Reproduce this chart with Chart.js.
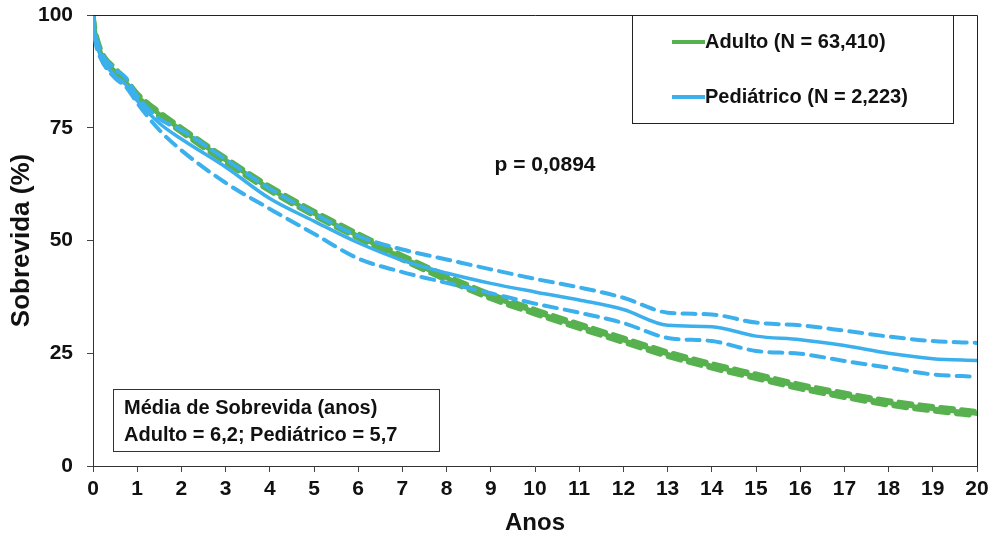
<!DOCTYPE html>
<html>
<head>
<meta charset="utf-8">
<script src="https://cdn.jsdelivr.net/npm/chart.js@4/dist/chart.umd.min.js"></script>
<style>
  html, body { margin: 0; padding: 0; background: #fff; }
  #wrap { width: 992px; height: 535px; position: relative; }
</style>
</head>
<body>
<div id="wrap"><canvas id="chart" width="992" height="535"></canvas></div>
<script>
// anos (eixo x)
const anos = [0, 0.05, 0.2, 0.5, 0.75, 1, 1.5, 2, 3, 4, 5, 6, 7, 8, 9, 10, 11, 12, 13, 14, 15, 16, 17, 18, 19, 20];

// Adulto: estimativa + IC 95%
const adulto    = [100, 96, 91, 87.5, 85, 82, 78, 74.5, 67.8, 61.5, 56, 51, 46.2, 41.7, 37.6, 34.2, 31, 27.9, 24.8, 22.2, 19.9, 17.6, 15.7, 14, 12.7, 11.6];
const adultoSup = [100, 96.6, 91.8, 88.2, 85.7, 82.6, 78.5, 75, 68.3, 62, 56.5, 51.5, 46.7, 42.2, 38.1, 34.7, 31.5, 28.4, 25.3, 22.7, 20.4, 18.1, 16.2, 14.5, 13.2, 12.1];
const adultoInf = [100, 95.4, 90.2, 86.8, 84.3, 81.4, 77.5, 74, 67.3, 61, 55.5, 50.5, 45.7, 41.2, 37.1, 33.7, 30.5, 27.4, 24.3, 21.7, 19.4, 17.1, 15.2, 13.5, 12.2, 11.1];

// Pediátrico: estimativa + IC 95%
const pediatrico    = [100, 95, 90.5, 86.5, 84.5, 81, 76, 72.5, 66.3, 59.3, 54.3, 49.5, 45.6, 42.8, 40.5, 38.6, 36.8, 34.7, 31.2, 30.9, 28.8, 28, 26.7, 25, 23.8, 23.4];
const pediatricoSup = [100, 96, 91.5, 88, 86, 82, 77, 74.5, 68, 61.5, 56, 51, 48, 45.8, 43.6, 41.5, 39.6, 37.3, 34, 33.6, 31.8, 31.2, 30, 28.7, 27.7, 27.3];
const pediatricoInf = [100, 94.5, 90, 86, 84, 80.5, 74.5, 70, 62.8, 57, 51.5, 46, 43, 40.6, 38.3, 36, 34, 31.7, 28.4, 27.7, 25.5, 24.9, 23.3, 21.8, 20.3, 19.8];

const yTicks = [0, 25, 50, 75, 100];

const VERDE = '#57b14f';
const AZUL = '#3cb0ec';
const FONTE = 'Liberation Sans, Arial, Helvetica, sans-serif';

const pts = arr => arr.map((v, i) => ({ x: anos[i], y: v }));

function serie(label, arr, cor, largura, tracejado) {
    return {
        label,
        data: pts(arr),
        borderColor: cor,
        borderWidth: largura,
        borderDash: tracejado ? [13, 8] : [],
        borderCapStyle: 'round',
        pointRadius: 0,
        fill: false,
        cubicInterpolationMode: 'monotone'
    };
}

// moldura, legenda e anotações
const extras = {
    id: 'extras',
    afterDraw(chart) {
        const { ctx, chartArea: a } = chart;
        ctx.save();
        ctx.strokeStyle = '#222';
        ctx.lineWidth = 1;
        ctx.beginPath();
        ctx.moveTo(a.left, a.top + 0.5);
        ctx.lineTo(a.right + 0.5, a.top + 0.5);
        ctx.lineTo(a.right + 0.5, a.bottom);
        ctx.stroke();

        // caixa da legenda
        ctx.fillStyle = '#fff';
        ctx.fillRect(632, 15, 321, 108);
        ctx.strokeRect(632.5, 15.5, 321, 108);
        ctx.font = 'bold 20px ' + FONTE;
        ctx.textBaseline = 'middle';
        const itens = [['Adulto (N = 63,410)', VERDE, 42], ['Pediátrico (N = 2,223)', AZUL, 97]];
        itens.forEach(([txt, cor, y]) => {
            ctx.strokeStyle = cor;
            ctx.lineWidth = 4;
            ctx.beginPath();
            ctx.moveTo(672, y);
            ctx.lineTo(705, y);
            ctx.stroke();
            ctx.fillStyle = '#111';
            ctx.fillText(txt, 705, y);
        });

        // p-valor
        ctx.textAlign = 'center';
        ctx.font = 'bold 21px ' + FONTE;
        ctx.fillText('p = 0,0894', 545, 165);

        // média de sobrevida
        ctx.fillStyle = '#fff';
        ctx.fillRect(113, 389, 326, 62);
        ctx.strokeStyle = '#333';
        ctx.lineWidth = 1;
        ctx.strokeRect(113.5, 389.5, 326, 62);
        ctx.fillStyle = '#111';
        ctx.textAlign = 'left';
        ctx.font = 'bold 20px ' + FONTE;
        ctx.fillText('Média de Sobrevida (anos)', 124, 408);
        ctx.fillText('Adulto = 6,2; Pediátrico = 5,7', 124, 435);
        ctx.restore();
    }
};

new Chart(document.getElementById('chart'), {
    type: 'line',
    data: {
        datasets: [
            serie('Pediátrico', pediatrico, AZUL, 3.5, false),
            serie('Pediátrico IC sup', pediatricoSup, AZUL, 4, true),
            serie('Pediátrico IC inf', pediatricoInf, AZUL, 4, true),
            serie('Adulto', adulto, VERDE, 4.5, false),
            serie('Adulto IC sup', adultoSup, VERDE, 5, true),
            serie('Adulto IC inf', adultoInf, VERDE, 5, true)
        ]
    },
    options: {
        responsive: false,
        animation: false,
        layout: { padding: { top: 15, right: 15, left: 0, bottom: 0 } },
        plugins: { legend: { display: false }, tooltip: { enabled: false } },
        scales: {
            x: {
                type: 'linear',
                min: 0,
                max: 20,
                afterFit: s => { s.height = 69; s.paddingRight = 0; },
                ticks: {
                    stepSize: 1,
                    color: '#111',
                    padding: 5,
                    font: { family: FONTE, size: 21, weight: 'bold' }
                },
                grid: { drawOnChartArea: false, tickLength: 6, color: '#444' },
                border: { display: true, color: '#333', width: 1 },
                title: {
                    display: true,
                    text: 'Anos',
                    color: '#111',
                    padding: { top: 2, bottom: 0 },
                    font: { family: FONTE, size: 24, weight: 'bold', lineHeight: 1 }
                }
            },
            y: {
                min: 0,
                max: 100,
                afterFit: s => { s.width = 93; s.paddingTop = 0; s.paddingBottom = 0; },
                afterBuildTicks: s => { s.ticks = yTicks.map(v => ({ value: v })); },
                ticks: {
                    color: '#111',
                    padding: 14,
                    font: { family: FONTE, size: 21, weight: 'bold' }
                },
                grid: { drawOnChartArea: false, tickLength: 6, color: '#444' },
                border: { display: true, color: '#333', width: 1 },
                title: {
                    display: true,
                    text: 'Sobrevida (%)',
                    color: '#111',
                    padding: { top: 6, bottom: 0 },
                    font: { family: FONTE, size: 26, weight: 'bold' }
                }
            }
        }
    },
    plugins: [extras]
});
</script>
</body>
</html>
